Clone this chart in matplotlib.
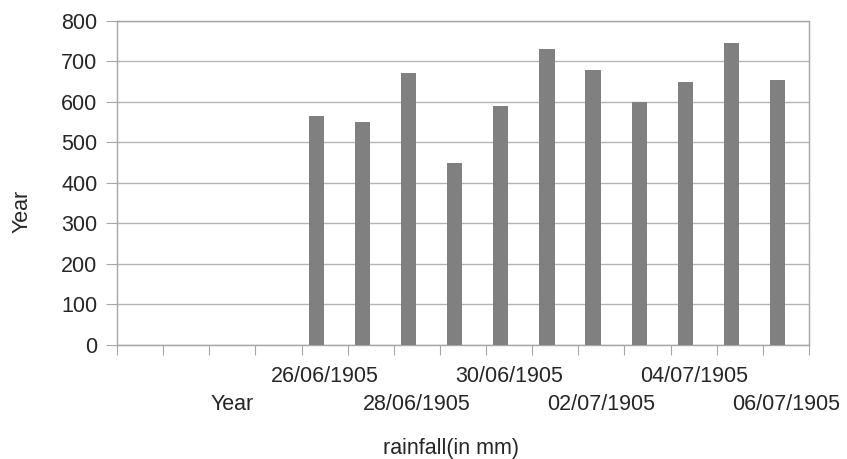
import numpy as np
from matplotlib import pyplot as plt

# categories on the x axis (first ones carry no data)
categories = ['', '', 'Year', '',
              '26/06/1905', '27/06/1905', '28/06/1905', '29/06/1905',
              '30/06/1905', '01/07/1905', '02/07/1905', '03/07/1905',
              '04/07/1905', '05/07/1905', '06/07/1905']
rainfall = [np.nan, np.nan, np.nan, np.nan,
            565, 550, 672, 450, 590, 732, 680, 600, 650, 745, 655]
yticks = [0, 100, 200, 300, 400, 500, 600, 700, 800]

plt.rcParams['font.family'] = ['Liberation Sans', 'DejaVu Sans']
txt = '#262626'
linec = '#a6a6a6'

fig = plt.figure(figsize=(8.47, 4.59), dpi=100)
ax = fig.add_axes([0.1381, 0.2484, 0.8170, 0.7059])

x = np.arange(len(categories)) + 0.5
ax.bar(x - 0.18, rainfall, width=0.33, color='#808080', zorder=3)

ax.set_xlim(0, len(categories))
ax.set_ylim(0, 800)
ax.set_yticks(yticks)
ax.yaxis.grid(True, color='#b4b4b4', linewidth=1.0, zorder=0)

# tick marks on category boundaries, labels on centres (every other, staggered)
ax.set_xticks(np.arange(len(categories) + 1))
ax.set_xticklabels([])
ax.set_xticks(x, minor=True)
shown = [c if i % 2 == 0 else '' for i, c in enumerate(categories)]
ax.set_xticklabels(shown, minor=True, fontsize=15.5, color=txt)
for i, t in enumerate(ax.xaxis.get_minor_ticks()):
    t.set_pad(15 if (i // 2) % 2 == 0 else 35)
ax.tick_params(axis='x', which='minor', length=0)
ax.tick_params(axis='x', which='major', length=7, color=linec, direction='out')
ax.tick_params(axis='y', length=8, color=linec, pad=6, labelsize=15.5, labelcolor=txt)

for s in ax.spines.values():
    s.set_color(linec)
    s.set_linewidth(1.0)

ax.set_xlabel('rainfall(in mm)', fontsize=15.5, color=txt, va='center')
ax.xaxis.set_label_coords(0.4827, -0.318)
ax.set_ylabel('Year', fontsize=15.5, color=txt, va='center')
ax.yaxis.set_label_coords(-0.1377, 0.411)

plt.savefig('out.png', dpi=100)
